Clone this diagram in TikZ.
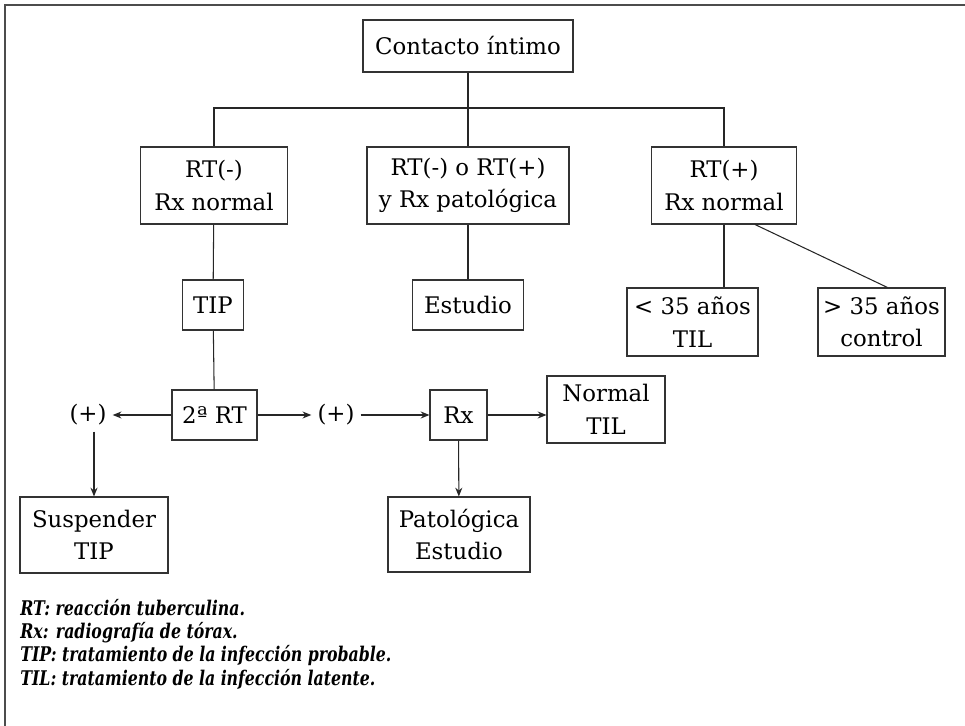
\documentclass[tikz,border=0pt]{standalone}
\usepackage{fontspec}
\setmainfont{DejaVu Serif}
\newfontfamily\leyendafont[FakeStretch=0.78]{DejaVu Serif}
\usetikzlibrary{arrows.meta}

\begin{document}
\begin{tikzpicture}[x=0.02cm, y=-0.02cm, font=\fontsize{13}{18.5}\selectfont,
  caja/.style={draw=black!80, line width=0.6pt, align=center, inner sep=0pt},
  linea/.style={draw=black!85, line width=0.6pt},
  flecha/.style={linea, -{Stealth[length=5pt, width=4pt]}}]
\useasboundingbox (0,0) rectangle (965,726);
\draw[line width=0.9pt, black!70] (965,5) -- (5,5) -- (5,726);
% primer nivel
\node[caja, minimum width=4.2cm, minimum height=1.04cm] (contacto) at (468,46) {Contacto íntimo};
\coordinate (rama) at (468,108);
\node[caja, minimum width=2.94cm, minimum height=1.54cm] (rtneg) at (214,185.5) {RT(-)\\Rx normal};
\node[caja, minimum width=4.04cm, minimum height=1.54cm] (rtmix) at (468,185.5) {RT(-) o RT(+)\\y Rx patológica};
\node[caja, minimum width=2.9cm, minimum height=1.54cm] (rtpos) at (724,185.5) {RT(+)\\Rx normal};
\draw[linea] (contacto) -- (rama);
\draw[linea] (rtneg.north) |- (rama) -| (rtpos.north);
\draw[linea] (rama) -- (rtmix.north);
% segundo nivel
\node[caja, minimum width=1.22cm, minimum height=1cm] (tip) at (213,305) {TIP};
\node[caja, minimum width=2.22cm, minimum height=1cm] (estudio) at (468,305) {Estudio};
\node[caja, minimum width=2.62cm, minimum height=1.36cm] (menor) at (692.5,322) {< 35 años\\TIL};
\node[caja, minimum width=2.54cm, minimum height=1.36cm] (mayor) at (881.5,322) {> 35 años\\control};
\draw[linea] (rtneg) -- (tip);
\draw[linea] (rtmix) -- (estudio);
\draw[linea] (rtpos.south) -- (rtpos.south |- menor.north);
\draw[linea] ([xshift=0.62cm]rtpos.south) -- ([xshift=0.12cm]mayor.north);
% segunda RT
\node[caja, minimum width=1.7cm, minimum height=1cm] (segunda) at (214.5,415) {2ª RT};
\node (posizq) at (88,415) {(+)};
\node (posder) at (336,415) {(+)};
\node[caja, minimum width=1.14cm, minimum height=1cm] (rx) at (458.5,415) {Rx};
\node[caja, minimum width=2.36cm, minimum height=1.34cm] (normal) at (606,409.5) {Normal\\TIL};
\node[caja, minimum width=2.84cm, minimum height=1.5cm] (patologica) at (459,534.5) {Patológica\\Estudio};
\node[caja, minimum width=2.96cm, minimum height=1.52cm] (suspender) at (94,535) {Suspender\\TIP};
\draw[linea] (tip) -- (segunda);
\draw[flecha] (segunda) -- (posizq);
\draw[flecha] (segunda) -- (posder);
\draw[flecha] (posder) -- (rx);
\draw[flecha] (rx) -- (normal.west |- rx);
\draw[flecha] (rx) -- (patologica);
\draw[flecha] (posizq.south -| suspender) -- (suspender);
% leyenda
\node[anchor=north west, align=left, inner sep=0pt,
  font={\leyendafont\bfseries\itshape\fontsize{11.5}{13.2}\selectfont}] (leyenda) at (20,599)
  {RT: reacción tuberculina.\\
   Rx: radiografía de tórax.\\
   TIP: tratamiento de la infección probable.\\
   TIL: tratamiento de la infección latente.};
\end{tikzpicture}
\end{document}
